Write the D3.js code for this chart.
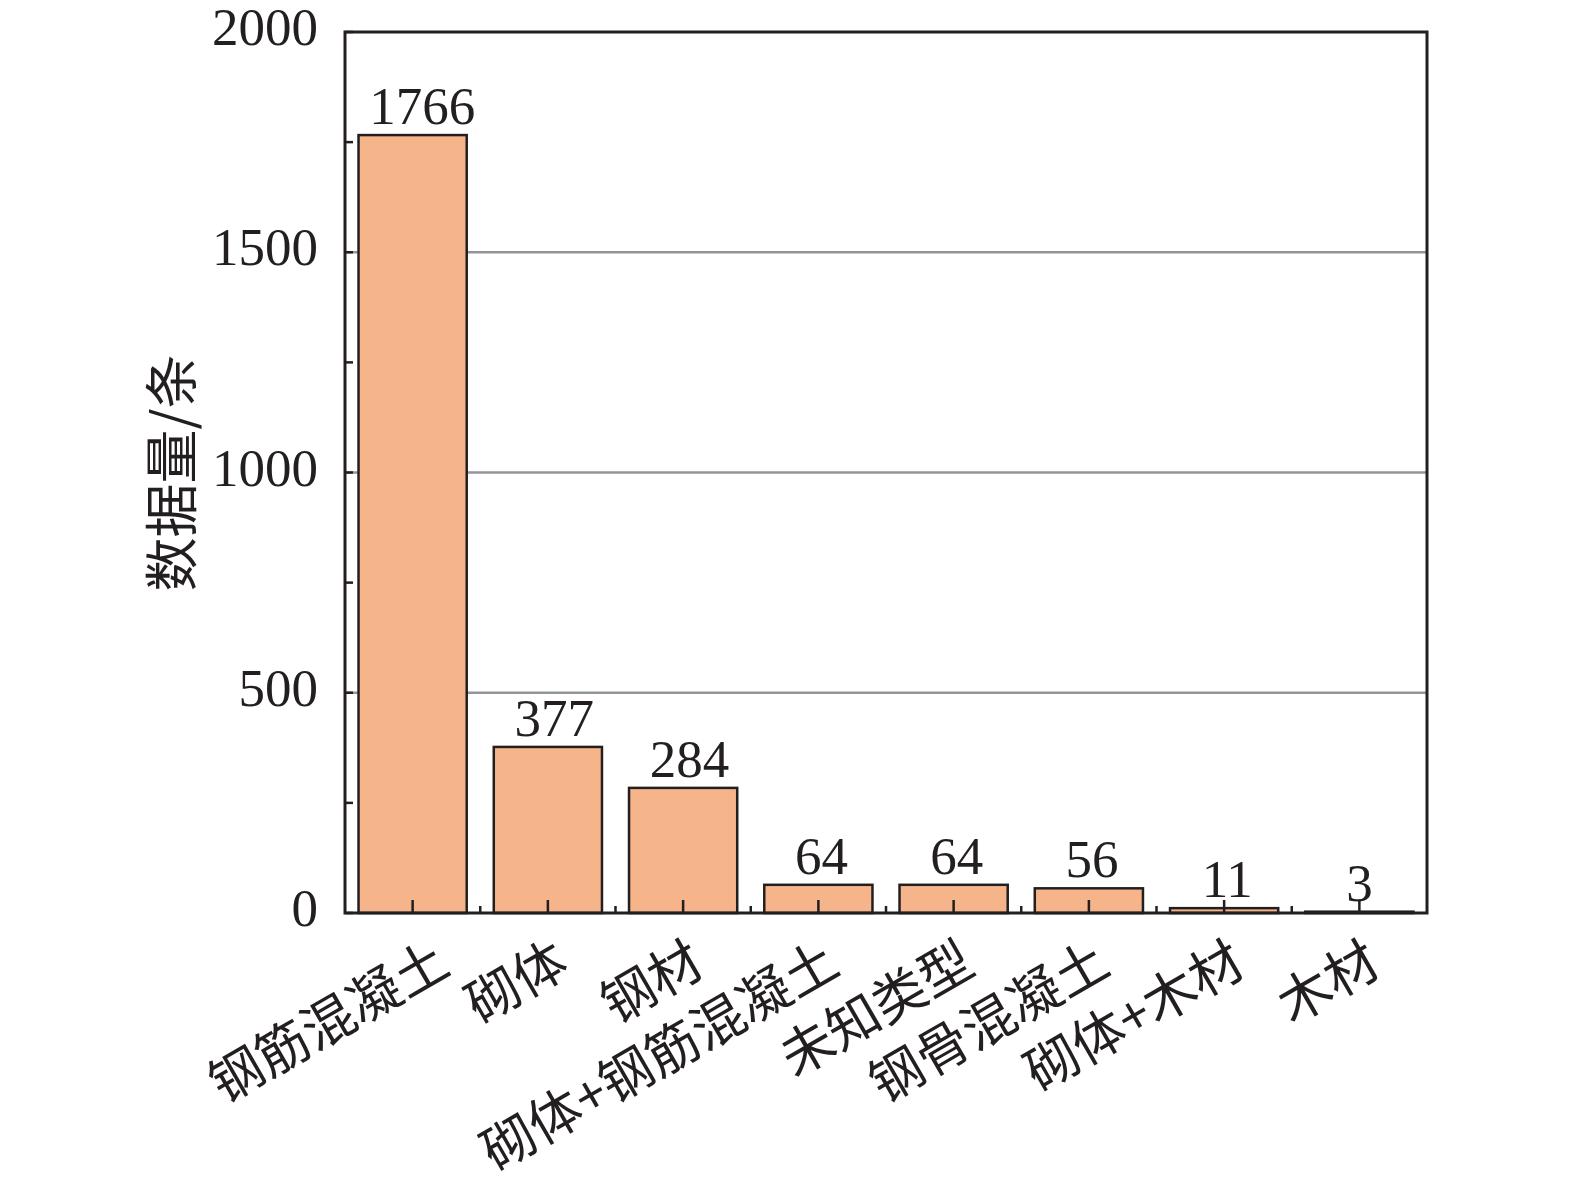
<!DOCTYPE html>
<html><head><meta charset="utf-8">
<script src="https://cdn.jsdelivr.net/npm/d3@7"></script>
<style>body{margin:0;background:#fff}</style>
</head><body>
<svg id="c" width="1575" height="1197"></svg>
<script>
const categories = ["钢筋混凝土","砌体","钢材","砌体+钢筋混凝土","未知类型","钢骨混凝土","砌体+木材","木材"];
const counts = [1766,377,284,64,64,56,11,3];
const yTicks = [0,500,1000,1500,2000];
const yMinorTicks = [250,750,1250,1750];
const gridValues = [500,1000,1500];
const yLabel = "数据量/条";

const W = 1575, H = 1197;
const m = {left:345, top:32, right:1427, bottom:913};
const ink = "#231f20";
const serif = "'Liberation Serif','Times New Roman',serif";
const cjk = "'Noto Sans CJK SC','Noto Sans CJK JP',sans-serif";

const svg = d3.select("#c");
const x = d3.scaleBand().domain(categories).range([m.left, m.right]).paddingInner(0.2).paddingOuter(0.1);
const y = d3.scaleLinear().domain([0,2000]).range([m.bottom, m.top]);

// gridlines
svg.append("g").selectAll("line").data(gridValues).join("line")
  .attr("x1", m.left).attr("x2", m.right)
  .attr("y1", d=>y(d)).attr("y2", d=>y(d))
  .attr("stroke", "#939598").attr("stroke-width", 2.5);

// bars
const data = categories.map((c,i)=>({c, v:counts[i]}));
svg.append("g").selectAll("rect").data(data).join("rect")
  .attr("x", d=>x(d.c)).attr("width", x.bandwidth())
  .attr("y", d=>y(d.v)).attr("height", d=>m.bottom - y(d.v))
  .attr("fill", "#f5b48a").attr("stroke", ink).attr("stroke-width", 2.5);

// value labels
svg.append("g").selectAll("text").data(data).join("text")
  .attr("x", d=>x(d.c) + x.bandwidth()/2 + 3.2*(String(d.v).length-1))
  .attr("y", d=>y(d.v) - 11)
  .attr("text-anchor", "middle")
  .attr("font-family", serif).attr("font-size", 53).attr("fill", ink)
  .text(d=>d.v);

// x axis ticks (inward)
const step = x.step();
const xMajor = categories.map(c=>x(c)+x.bandwidth()/2);
const xMinor = categories.slice(1).map(c=>x(c) - (step - x.bandwidth())/2);
svg.append("g").selectAll("line").data(xMajor).join("line")
  .attr("x1", d=>d).attr("x2", d=>d).attr("y1", m.bottom).attr("y2", m.bottom-13)
  .attr("stroke", ink).attr("stroke-width", 2.5);
svg.append("g").selectAll("line").data(xMinor).join("line")
  .attr("x1", d=>d).attr("x2", d=>d).attr("y1", m.bottom).attr("y2", m.bottom-7)
  .attr("stroke", ink).attr("stroke-width", 2.5);

// y axis ticks (inward)
svg.append("g").selectAll("line").data(yTicks.concat(yMinorTicks)).join("line")
  .attr("x1", m.left).attr("x2", m.left+8)
  .attr("y1", d=>y(d)).attr("y2", d=>y(d))
  .attr("stroke", ink).attr("stroke-width", 2.5);

// frame
svg.append("rect").attr("x", m.left).attr("y", m.top)
  .attr("width", m.right-m.left).attr("height", m.bottom-m.top)
  .attr("fill", "none").attr("stroke", ink).attr("stroke-width", 3);

// y tick labels
svg.append("g").selectAll("text").data(yTicks).join("text")
  .attr("x", 318).attr("y", d=>y(d)+13)
  .attr("text-anchor", "end")
  .attr("font-family", serif).attr("font-size", 53).attr("fill", ink)
  .text(d=>d);

// x tick labels, rotated
svg.append("g").selectAll("text").data(categories).join("text")
  .attr("transform", (c,i)=>`translate(${x(c)+x.bandwidth()/2+(i===0?40:24)},972) rotate(-30)`)
  .attr("text-anchor", "end")
  .attr("font-family", cjk).attr("font-size", 53).attr("fill", ink)
  .text(c=>c);

// y axis title
svg.append("text")
  .attr("transform", "translate(192,473) rotate(-90)")
  .attr("text-anchor", "middle")
  .attr("font-family", cjk).attr("font-size", 54).attr("fill", ink)
  .text(yLabel);
</script>
</body></html>
